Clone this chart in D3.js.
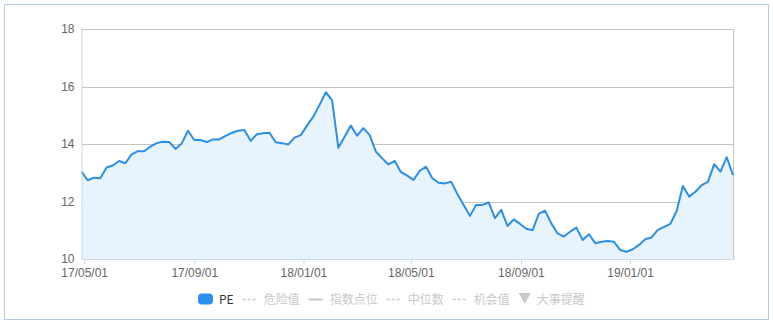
<!DOCTYPE html>
<html>
<head>
<meta charset="utf-8">
<script src="https://cdn.jsdelivr.net/npm/d3@7"></script>
<style>
  html, body { margin: 0; padding: 0; background: #fff; }
  svg { display: block; font-family: "Noto Sans CJK SC", "DejaVu Sans", sans-serif; }
</style>
</head>
<body>
<div id="chart"></div>
<script>
'use strict';

// weekly PE readings, one per Friday from 2017-04-28 to 2019-04-26
const startDate = new Date(2017, 3, 28);
const endDate = new Date(2019, 3, 27);

const peValues = [
    13.04, 12.74, 12.83, 12.81, 13.18, 13.25, 13.41, 13.33, 13.64, 13.75,
    13.75, 13.91, 14.03, 14.08, 14.07, 13.83, 14.02, 14.46, 14.14, 14.14,
    14.07, 14.16, 14.16, 14.28, 14.39, 14.46, 14.49, 14.11, 14.34, 14.37,
    14.39, 14.06, 14.03, 13.98, 14.22, 14.31, 14.64, 14.95, 15.36, 15.80,
    15.53, 13.87, 14.25, 14.64, 14.29, 14.55, 14.31, 13.73, 13.50, 13.29,
    13.41, 13.02, 12.90, 12.75, 13.07, 13.21, 12.81, 12.65, 12.63, 12.69,
    12.26, 11.88, 11.50, 11.88, 11.88, 11.97, 11.42, 11.71, 11.15, 11.38,
    11.22, 11.05, 11.00, 11.57, 11.68, 11.24, 10.89, 10.78, 10.95, 11.09,
    10.66, 10.86, 10.55, 10.60, 10.63, 10.60, 10.31, 10.25, 10.34, 10.49,
    10.69, 10.75, 11.01, 11.12, 11.22, 11.67, 12.54, 12.17, 12.34, 12.57,
    12.68, 13.30, 13.04, 13.54, 12.92
];

const yTicks = [10, 12, 14, 16, 18];
const xTickLabels = ['17/05/01', '17/09/01', '18/01/01', '18/05/01', '18/09/01', '19/01/01'];

const legendItems = [
    { name: 'PE', kind: 'swatch', active: true },
    { name: '危险值', kind: 'dash', active: false },
    { name: '指数点位', kind: 'solid', active: false },
    { name: '中位数', kind: 'dash', active: false },
    { name: '机会值', kind: 'dash', active: false },
    { name: '大事提醒', kind: 'triangle', active: false }
];

const width = 773;
const height = 324;
const margin = { top: 29, right: 41, bottom: 65, left: 81.5 };
const chartWidth = 733 - margin.left;
const chartHeight = 259 - margin.top;

const parseLabel = d3.timeParse('%y/%m/%d');
const dates = d3.timeFriday.range(startDate, endDate);
const data = dates.map(function (d, i) {
    return { date: d, value: peValues[i] };
});

const svg = d3.select('#chart')
    .append('svg')
    .attr('width', width)
    .attr('height', height);

// outer frame
svg.append('rect')
    .attr('x', 4.5)
    .attr('y', 4.5)
    .attr('width', 764)
    .attr('height', 315)
    .attr('fill', 'none')
    .attr('stroke', '#b3cde3');

const chart = svg.append('g')
    .attr('transform', `translate(${margin.left},${margin.top})`);

const xScale = d3.scaleTime()
    .domain([dates[0], dates[dates.length - 1]])
    .range([0, chartWidth]);

const yScale = d3.scaleLinear()
    .domain([10, 18])
    .range([chartHeight, 0]);

// grid lines
chart.append('g')
    .selectAll('line')
    .data(yTicks.slice(1))
    .join('line')
    .attr('x1', 0)
    .attr('x2', chartWidth)
    .attr('y1', function (d) { return Math.round(yScale(d)) + 0.5; })
    .attr('y2', function (d) { return Math.round(yScale(d)) + 0.5; })
    .attr('stroke', '#c4c4c4');

// right border
chart.append('line')
    .attr('x1', chartWidth + 0.5)
    .attr('x2', chartWidth + 0.5)
    .attr('y1', 0)
    .attr('y2', chartHeight)
    .attr('stroke', '#c4c4c4');

const area = d3.area()
    .x(function (d) { return xScale(d.date); })
    .y0(yScale(10))
    .y1(function (d) { return yScale(d.value); });

const line = d3.line()
    .x(function (d) { return xScale(d.date); })
    .y(function (d) { return yScale(d.value); });

chart.append('path')
    .datum(data)
    .attr('d', area)
    .attr('fill', '#e8f4fd');

chart.append('path')
    .datum(data)
    .attr('d', line)
    .attr('fill', 'none')
    .attr('stroke', '#2b8fe5')
    .attr('stroke-width', 2)
    .attr('stroke-linejoin', 'round');

// y axis
const yAxis = d3.axisLeft(yScale)
    .tickValues(yTicks)
    .tickSize(0)
    .tickPadding(7)
    .tickFormat(d3.format('d'));

const yAxisG = chart.append('g').call(yAxis);
yAxisG.select('.domain')
    .attr('stroke', '#ccd6eb');
yAxisG.selectAll('text')
    .attr('fill', '#666')
    .attr('font-size', 12);

// x axis
const xAxis = d3.axisBottom(xScale)
    .tickValues(xTickLabels.map(parseLabel))
    .tickSize(5)
    .tickPadding(4)
    .tickSizeOuter(0)
    .tickFormat(d3.timeFormat('%y/%m/%d'));

const xAxisG = chart.append('g')
    .attr('transform', `translate(0,${chartHeight})`)
    .call(xAxis);
xAxisG.select('.domain')
    .attr('stroke', '#ccd6eb');
xAxisG.selectAll('.tick line')
    .attr('stroke', '#ccd6eb');
xAxisG.selectAll('text')
    .attr('fill', '#666')
    .attr('font-size', 12);

// legend
const legend = svg.append('g')
    .attr('transform', 'translate(198,299)');

let cursor = 0;
legendItems.forEach(function (item) {
    const g = legend.append('g')
        .attr('transform', `translate(${cursor},0)`);
    const grey = '#c8c8c8';
    let markWidth = 15;

    if (item.kind === 'swatch') {
        g.append('rect')
            .attr('x', 0)
            .attr('y', -5.5)
            .attr('width', 15)
            .attr('height', 11)
            .attr('rx', 4)
            .attr('fill', '#2a8ff0');
    } else if (item.kind === 'dash') {
        g.append('line')
            .attr('x1', 0)
            .attr('x2', 15)
            .attr('y1', 0.5)
            .attr('y2', 0.5)
            .attr('stroke', grey)
            .attr('stroke-width', 1.5)
            .attr('stroke-dasharray', '3,2');
    } else if (item.kind === 'solid') {
        g.append('line')
            .attr('x1', 0)
            .attr('x2', 14)
            .attr('y1', 0.5)
            .attr('y2', 0.5)
            .attr('stroke', grey)
            .attr('stroke-width', 2);
    } else {
        g.append('path')
            .attr('d', 'M0,-6 L12,-6 L6,5 Z')
            .attr('fill', grey);
        markWidth = 12;
    }

    const label = g.append('text')
        .attr('x', markWidth + 6)
        .attr('y', 4.5)
        .attr('font-size', 12)
        .attr('fill', item.active ? '#333' : grey)
        .text(item.name);

    cursor += markWidth + 6 + label.node().getComputedTextLength() + 9;
});
</script>
</body>
</html>
